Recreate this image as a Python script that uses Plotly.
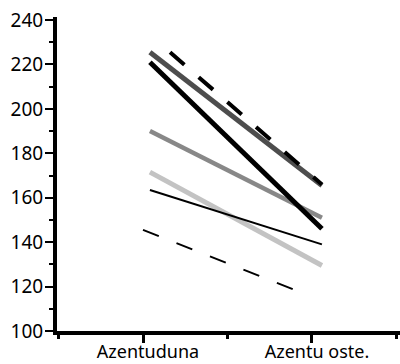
import plotly.graph_objects as go

categories = ["Azentuduna", "Azentu oste."]

# series: values at the two time points
dark_gray = [225.5, 165.5]
black_thick = [221, 146]
top_dashed = [225.5, 166]
medium_gray = [190, 151]
light_gray = [171.5, 129.5]
thin_black = [163.5, 139]
low_dashed = [145.5, 117]

# x positions on the numeric axis (category 0 and 1, with small jitter)
x_main = [0.041, 1.059]
x_top_dashed = [0.16, 1.059]
x_low_dashed = [0.0, 0.947]

fig = go.Figure()

def add(x, y, color, width, dash="solid"):
    fig.add_trace(go.Scatter(x=x, y=y, mode="lines",
                             line=dict(color=color, width=width, dash=dash),
                             showlegend=False, hoverinfo="skip"))

add(x_main, medium_gray, "#888888", 4.5)
add(x_main, light_gray, "#c3c3c3", 5)
add(x_main, thin_black, "#000000", 2)
add(x_low_dashed, low_dashed, "#000000", 2, "17px,19px")
add(x_main, black_thick, "#000000", 5)
add(x_main, dark_gray, "#4d4d4d", 5)
add(x_top_dashed, top_dashed, "#000000", 4, "19px,19px")

font = dict(family="Noto Sans, Lato, sans-serif", size=19, color="black")
xfont = dict(family="Noto Sans, Lato, sans-serif", size=18, color="black")

fig.update_layout(
    width=400, height=364,
    margin=dict(l=57, r=0, t=17, b=33),
    paper_bgcolor="white", plot_bgcolor="white",
    font=font,
    xaxis=dict(range=[-0.509, 1.521], tickvals=[0, 1], ticktext=categories,
               automargin=False,
               showgrid=False, zeroline=False,
               showline=True, linecolor="black", linewidth=4,
               ticks="outside", ticklen=8, tickwidth=3, tickcolor="black",
               ticklabelstandoff=-7, ticklabelshift=5,
               minor=dict(tick0=0.5, dtick=1, ticks="outside", ticklen=4,
                          tickwidth=3, tickcolor="black", showgrid=False),
               tickfont=xfont),
    yaxis=dict(range=[100, 241.35], tickvals=[100, 120, 140, 160, 180, 200, 220, 240],
               automargin=False,
               showgrid=False, zeroline=False,
               showline=True, linecolor="black", linewidth=4,
               ticks="outside", ticklen=8, tickwidth=2, tickcolor="black",
               ticklabelstandoff=-2,
               minor=dict(tick0=100, dtick=10, ticks="outside", ticklen=4,
                          tickwidth=2, tickcolor="black", showgrid=False),
               tickfont=font),
)

fig.write_html("out.html", config={"displayModeBar": False},
               post_script="document.body.style.margin='0';document.body.style.overflow='hidden';")
